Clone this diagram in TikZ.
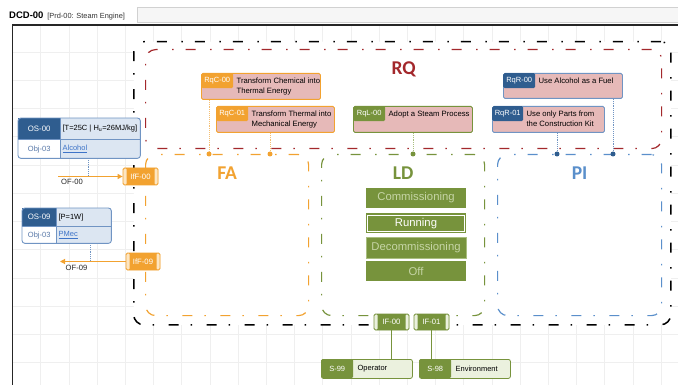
\documentclass[tikz,border=0pt]{standalone}
\usepackage{fontspec}
\setmainfont{Liberation Sans}
\newfontfamily\zonefont{Carlito}
\usetikzlibrary{
  arrows.meta,
  positioning,
  calc
}
\definecolor{RqRed}{HTML}{A3282C}
\definecolor{RqPink}{HTML}{E6B9B8}
\definecolor{FaOrange}{HTML}{F2A230}
\definecolor{FaLight}{HTML}{FDE6C2}
\definecolor{FaTrace}{HTML}{F5BE70}
\definecolor{LdGreen}{HTML}{77933C}
\definecolor{LdPale}{HTML}{C6D5A6}
\definecolor{LdSoft}{HTML}{A9BE7F}
\definecolor{LdLight}{HTML}{EBF1DE}
\definecolor{PiBlue}{HTML}{5A8FCB}
\definecolor{ObjDark}{HTML}{2F5D8F}
\definecolor{ObjLight}{HTML}{DCE6F2}
\definecolor{ObjLine}{HTML}{7094C3}
\definecolor{ObjText}{HTML}{5878A8}
\definecolor{LinkBlue}{HTML}{3E74C8}
\definecolor{GridGray}{HTML}{EFEFEF}
\definecolor{TabGray}{HTML}{F6F6F6}
\tikzset{
  gridline/.style={
    draw=GridGray,
    line width=0.6pt
  },
  canvasline/.style={
    draw=black!85,
    line width=1.4pt
  },
  tabbar/.style={
    draw=black!18,
    fill=TabGray,
    anchor=north west,
    inner sep=0pt
  },
  zone/.style={
    rounded corners=10pt,
    line width=1.2pt,
    dash pattern=on 10pt off 12pt on 1.5pt off 14.5pt,
    anchor=north west,
    inner sep=0pt
  },
  zonelabel/.style={
    font=\zonefont\bfseries\fontsize{19.5}{19.5}\selectfont,
    inner sep=0pt
  },
  state/.style={
    fill=LdGreen,
    text=LdPale,
    minimum width=100pt,
    minimum height=20pt,
    inner sep=0pt,
    font=\fontsize{11.3}{12}\selectfont
  },
  req/.style={
    draw,
    fill=RqPink,
    rounded corners=1.5pt,
    line width=0.9pt,
    anchor=north west,
    inner sep=0pt
  },
  reqtag/.style={
    anchor=north west,
    text=white,
    rounded corners=1.5pt,
    minimum width=32pt,
    minimum height=15pt,
    inner sep=0pt,
    font=\fontsize{7.5}{9}\selectfont
  },
  reqtext/.style={
    anchor=north west,
    align=left,
    inner sep=0pt,
    font=\fontsize{7.7}{9.6}\selectfont
  },
  trace/.style={
    densely dotted,
    line width=0.9pt
  },
  tick/.style={
    circle,
    inner sep=0pt,
    minimum size=5pt
  },
  portend/.style={
    fill=white
  },
  port/.style={
    draw,
    rounded corners=1.5pt,
    line width=0.8pt,
    inner sep=0pt,
    minimum height=17pt,
    text=white,
    font=\fontsize{7.7}{9}\selectfont,
    path picture={
      \fill[portend] (path picture bounding box.north west)
        rectangle ([xshift=3.5pt]path picture bounding box.south west);
      \fill[portend] ([xshift=-3.5pt]path picture bounding box.north east)
        rectangle (path picture bounding box.south east);
    }
  },
  faport/.style={
    port,
    fill=FaOrange,
    draw=FaOrange,
    portend/.style={fill=FaLight}
  },
  ldport/.style={
    port,
    fill=LdGreen,
    draw=LdGreen,
    portend/.style={fill=LdLight}
  },
  objframe/.style={
    fill=ObjLight,
    anchor=north west,
    inner sep=0pt
  },
  objline/.style={
    draw=ObjLine,
    line width=0.9pt
  },
  objid/.style={
    fill=ObjDark,
    text=white,
    anchor=north west,
    inner sep=0pt,
    font=\fontsize{7.8}{9}\selectfont
  },
  objref/.style={
    fill=white,
    text=ObjText,
    anchor=north west,
    inner sep=0pt,
    font=\fontsize{7.5}{9}\selectfont
  },
  objvalue/.style={
    anchor=west,
    inner sep=0pt,
    font=\fontsize{7.5}{9}\selectfont
  },
  objtrace/.style={
    draw=ObjLine,
    densely dotted,
    line width=0.8pt
  },
  flow/.style={
    draw=FaOrange,
    line width=1.1pt,
    -{Triangle[length=5pt, width=5pt]}
  },
  flowlabel/.style={
    inner sep=0pt,
    text=black!85,
    font=\fontsize{7.6}{9}\selectfont
  },
  sysframe/.style={
    fill=LdLight,
    draw=LdGreen,
    line width=0.8pt,
    rounded corners=2pt,
    anchor=north west,
    inner sep=0pt
  },
  sysid/.style={
    fill=LdGreen,
    text=white,
    rounded corners=1.5pt,
    anchor=north west,
    inner sep=0pt,
    minimum height=19pt,
    font=\fontsize{7.5}{9}\selectfont
  },
  systext/.style={
    anchor=west,
    inner sep=0pt,
    font=\fontsize{7.5}{9}\selectfont
  },
  sysline/.style={
    draw=LdGreen,
    line width=1pt
  }
}

\begin{document}
\begin{tikzpicture}[x=1pt, y=-1pt]

  % canvas and tab header
  \useasboundingbox[fill=white] (0,0) rectangle (678,385);
  \node[tabbar, minimum width=541pt, minimum height=15pt] (tabbar) at (137,7) {};
  \node[anchor=base west, inner sep=0pt,
    font=\bfseries\fontsize{9.5}{11}\selectfont] (title) at (9,18.5) {DCD-00};
  \node[anchor=base west, inner sep=0pt, text=black!80,
    font=\fontsize{7.4}{9}\selectfont] (subtitle) at ([xshift=3.5pt]title.base east) {[Prd-00: Steam Engine]};

  \foreach \gx in {40.7,68.9,...,678} \draw[gridline] (\gx,25) -- (\gx,385);
  \foreach \gy in {52.2,80.4,...,385} \draw[gridline] (13,\gy) -- (678,\gy);
  \draw[canvasline] (12.5,385) -- (12.5,25) -- (678,25);

  % zones
  \node[zone, draw=black, fill=white, line width=1.5pt,
    minimum width=537pt, minimum height=283pt] (system) at (133,41) {};
  \node[zone, draw=RqRed, minimum width=516pt, minimum height=99pt] (rq) at (145,49) {};
  \node[zone, draw=FaOrange, minimum width=163pt, minimum height=161pt] (fa) at (145,154) {};
  \node[zone, draw=LdGreen, minimum width=163pt, minimum height=161pt] (ld) at (321,154) {};
  \node[zone, draw=PiBlue, minimum width=164pt, minimum height=161pt] (pi) at (497,154) {};

  \node[zonelabel, text=RqRed, below=12.5pt of rq.north] (rqlabel) {RQ};
  \node[zonelabel, text=FaOrange, below=12.5pt of fa.north] (falabel) {FA};
  \node[zonelabel, text=LdGreen, below=12.5pt of ld.north] (ldlabel) {LD};
  \node[zonelabel, text=PiBlue, below=12.5pt of pi.north] (pilabel) {PI};

  % life cycle states
  \node[state] (commissioning) at (416,198) {Commissioning};
  \node[state, text=white, below=5pt of commissioning] (running) {Running};
  \draw[white, line width=0.8pt] ([shift={(2pt,2pt)}]running.south west)
    rectangle ([shift={(-2pt,-2pt)}]running.north east);
  \node[state, draw=LdSoft, minimum height=21pt, below=3pt of running] (decommissioning) {Decommissioning};
  \node[state, below=3pt of decommissioning] (off) {Off};

  % requirements
  \node[req, draw=FaOrange, minimum width=119pt, minimum height=26pt] (rqc00) at (201,73) {};
  \node[reqtag, fill=FaOrange] (rqc00tag) at (rqc00.north west) {RqC-00};
  \node[reqtext] (rqc00text) at ([xshift=3pt, yshift=-5pt]rqc00tag.north east) {Transform Chemical into\\Thermal Energy};

  \node[req, draw=FaOrange, minimum width=118pt, minimum height=26pt] (rqc01) at (216,106) {};
  \node[reqtag, fill=FaOrange] (rqc01tag) at (rqc01.north west) {RqC-01};
  \node[reqtext] (rqc01text) at ([xshift=3pt, yshift=-5pt]rqc01tag.north east) {Transform Thermal into\\Mechanical Energy};

  \node[req, draw=LdGreen, minimum width=119pt, minimum height=26pt] (rql00) at (353,106) {};
  \node[reqtag, fill=LdGreen] (rql00tag) at (rql00.north west) {RqL-00};
  \node[reqtext] (rql00text) at ([xshift=3pt, yshift=-5pt]rql00tag.north east) {Adopt a Steam Process};

  \node[req, draw=ObjLine, minimum width=119pt, minimum height=25pt] (rqr00) at (503,73) {};
  \node[reqtag, fill=ObjDark] (rqr00tag) at (rqr00.north west) {RqR-00};
  \node[reqtext] (rqr00text) at ([xshift=3pt, yshift=-5pt]rqr00tag.north east) {Use Alcohol as a Fuel};

  \node[req, draw=ObjLine, minimum width=112pt, minimum height=26pt] (rqr01) at (492,106) {};
  \node[reqtag, fill=ObjDark, minimum width=31pt] (rqr01tag) at (rqr01.north west) {RqR-01};
  \node[reqtext] (rqr01text) at ([xshift=3pt, yshift=-5pt]rqr01tag.north east) {Use only Parts from\\the Construction Kit};

  % allocation of requirements
  \node[tick, fill=FaOrange] (fatick1) at (209,154) {};
  \node[tick, fill=FaOrange] (fatick2) at (270,154) {};
  \node[tick, fill=LdGreen] (ldtick) at (413,154) {};
  \node[tick, fill=ObjDark] (pitick1) at (557,154) {};
  \node[tick, fill=ObjDark] (pitick2) at (613,154) {};
  \draw[trace, draw=FaTrace] (rqc00.south -| fatick1) -- (fatick1);
  \draw[trace, draw=FaTrace] (rqc01.south -| fatick2) -- (fatick2);
  \draw[trace, draw=LdSoft] (rql00.south -| ldtick) -- (ldtick);
  \draw[trace, draw=ObjLine] (rqr01.south -| pitick1) -- (pitick1);
  \draw[trace, draw=ObjLine] (rqr00.south -| pitick2) -- (pitick2);

  % operands
  \node[objframe, minimum width=122pt, minimum height=40pt] (os00) at (18,118) {};
  \node[objid, minimum width=42pt, minimum height=21pt] (os00id) at (os00.north west) {OS-00};
  \node[objref, minimum width=42pt, minimum height=19pt] (os00ref) at (os00id.south west) {Obj-03};
  \node[objvalue] (os00value) at ([xshift=2pt]os00id.east) {[T=25C | H\textsubscript{u}=26MJ/kg]};
  \node[objvalue, text=LinkBlue] (os00link) at ([xshift=2pt]os00ref.east) {\underline{Alcohol}};
  \draw[objline] (os00id.south west) -- (os00id.south west -| os00.east);
  \draw[objline] (os00id.north east) -- (os00ref.south east);
  \draw[objline, rounded corners=3pt] (os00.north west) rectangle (os00.south east);

  \node[objframe, minimum width=89pt, minimum height=35pt] (os09) at (22,208) {};
  \node[objid, minimum width=34pt, minimum height=18pt] (os09id) at (os09.north west) {OS-09};
  \node[objref, minimum width=34pt, minimum height=17pt] (os09ref) at (os09id.south west) {Obj-03};
  \node[objvalue] (os09value) at ([xshift=2pt]os09id.east) {[P=1W]};
  \node[objvalue, text=LinkBlue] (os09link) at ([xshift=2pt]os09ref.east) {\underline{PMec}};
  \draw[objline] (os09id.south west) -- (os09id.south west -| os09.east);
  \draw[objline] (os09id.north east) -- (os09ref.south east);
  \draw[objline, rounded corners=3pt] (os09.north west) rectangle (os09.south east);

  % functional interfaces
  \node[faport, minimum width=35pt] (iff00) at (140.5,176.5) {IfF-00};
  \node[faport, minimum width=34pt] (iff09) at (143,261.5) {IfF-09};

  \coordinate (of00tail) at (58,176.5);
  \coordinate (os00drop) at (88,176.5);
  \draw[objtrace] (os00.south -| os00drop) -- (os00drop);
  \draw[flow] (of00tail) -- (iff00);
  \node[flowlabel] (of00label) at (72,182) {OF-00};

  \coordinate (of09head) at (60,261.5);
  \coordinate (os09drop) at (90,261.5);
  \draw[objtrace] (os09.south -| os09drop) -- (os09drop);
  \draw[flow] (iff09) -- (of09head);
  \node[flowlabel] (of09label) at (76.5,267.5) {OF-09};

  % life cycle interfaces and systems
  \node[ldport, minimum width=35pt, minimum height=16pt] (if00) at (391.5,322) {IF-00};
  \node[ldport, minimum width=35pt, minimum height=16pt] (if01) at (431.5,322) {IF-01};

  \node[sysframe, minimum width=91pt, minimum height=19pt] (s99) at (321,359) {};
  \node[sysid, minimum width=32pt] (s99id) at (s99.north west) {S-99};
  \node[systext] (s99text) at ([xshift=4pt]s99id.east) {Operator};

  \node[sysframe, minimum width=91pt, minimum height=19pt] (s98) at (419,359) {};
  \node[sysid, minimum width=32pt] (s98id) at (s98.north west) {S-98};
  \node[systext] (s98text) at ([xshift=4pt]s98id.east) {Environment};

  \draw[sysline] (if00) -- (if00 |- s99.north);
  \draw[sysline] (if01) -- (if01 |- s98.north);

\end{tikzpicture}
\end{document}
